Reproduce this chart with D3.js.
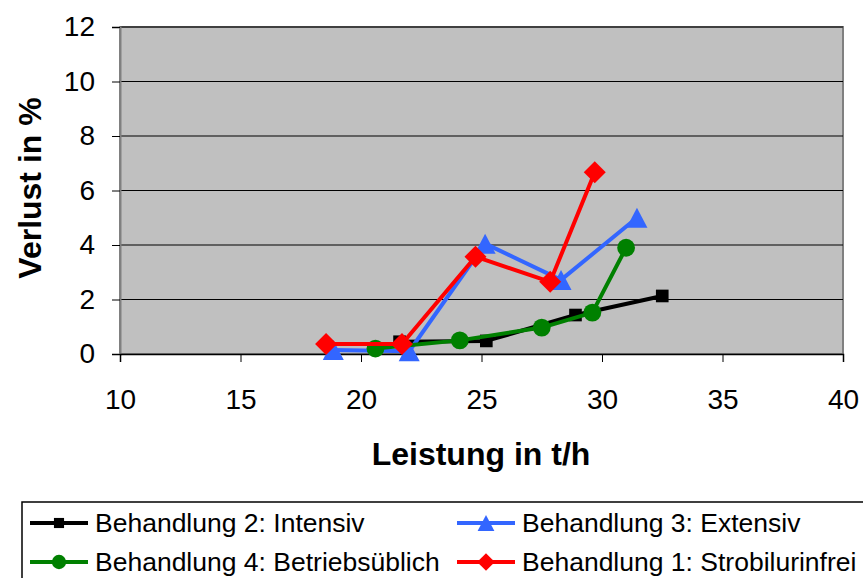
<!DOCTYPE html>
<html>
<head>
<meta charset="utf-8">
<script src="https://cdn.jsdelivr.net/npm/d3@7"></script>
<style>
  body { margin: 0; background: #fff; }
  svg { display: block; font-family: "Liberation Sans", Arial, sans-serif; }
</style>
</head>
<body>
<svg id="chart" width="863" height="578"></svg>
<script>
// tick values
var xTicks = [10, 15, 20, 25, 30, 35, 40],
    yTicks = [0, 2, 4, 6, 8, 10, 12];

// Behandlung 2: Intensiv
var intensivX = [21.6, 25.2, 28.9, 32.5],
    intensivY = [0.45, 0.48, 1.43, 2.13];
// Behandlung 3: Extensiv
var extensivX = [18.85, 22.0, 25.15, 28.3, 31.45],
    extensivY = [0.15, 0.1, 4.05, 2.72, 5.0];
// Behandlung 4: Betriebsüblich
var betriebX = [20.6, 24.1, 27.5, 29.6, 31.0],
    betriebY = [0.2, 0.5, 0.97, 1.52, 3.9];
// Behandlung 1: Strobilurinfrei
var strobX = [18.55, 21.7, 24.75, 27.85, 29.7],
    strobY = [0.37, 0.37, 3.57, 2.65, 6.67];

var seriesNames = ["Behandlung 2: Intensiv", "Behandlung 3: Extensiv",
                   "Behandlung 4: Betriebsüblich", "Behandlung 1: Strobilurinfrei"];

var series = [
  {name: seriesNames[0], xs: intensivX, ys: intensivY, color: "#000000", sym: "square"},
  {name: seriesNames[1], xs: extensivX, ys: extensivY, color: "#3366ff", sym: "triangle"},
  {name: seriesNames[2], xs: betriebX, ys: betriebY, color: "#008000", sym: "circle"},
  {name: seriesNames[3], xs: strobX, ys: strobY, color: "#ff0000", sym: "diamond"}
];

var svg = d3.select("svg#chart"),
    plot = {left: 120, top: 27, right: 843, bottom: 354};

var x = d3.scaleLinear().domain([10, 40]).range([plot.left, plot.right]),
    y = d3.scaleLinear().domain([0, 12]).range([plot.bottom, plot.top]);

// plot background
svg.append("rect")
    .attr("x", plot.left).attr("y", plot.top)
    .attr("width", plot.right - plot.left).attr("height", plot.bottom - plot.top)
    .attr("fill", "#c0c0c0")
    .attr("stroke", "#808080").attr("stroke-width", 2);

// gridlines
svg.append("g")
  .selectAll("line").data(yTicks.filter(function(d) { return d > 0; }))
  .enter().append("line")
    .attr("x1", plot.left).attr("x2", plot.right)
    .attr("y1", function(d) { return y(d); }).attr("y2", function(d) { return y(d); })
    .attr("stroke", "#000").attr("stroke-width", 1);

// axes
var yAxis = svg.append("g")
    .attr("transform", "translate(" + plot.left + ",0)")
    .call(d3.axisLeft(y).tickValues(yTicks).tickSize(8).tickPadding(17));
var xAxis = svg.append("g")
    .attr("transform", "translate(0," + plot.bottom + ")")
    .call(d3.axisBottom(x).tickValues(xTicks).tickSize(8).tickPadding(27));

[yAxis, xAxis].forEach(function(a) {
  a.select(".domain").attr("stroke", "#000").attr("stroke-width", 1.5);
  a.selectAll(".tick line").attr("stroke", "#000");
  a.selectAll(".tick text")
    .attr("font-family", "'Liberation Sans', Arial, sans-serif")
    .attr("font-size", 28).attr("fill", "#000");
});
yAxis.select(".domain").attr("stroke", "#808080").attr("stroke-width", 2);

// axis titles
svg.append("text")
    .attr("x", 481).attr("y", 465)
    .attr("text-anchor", "middle")
    .attr("font-size", 32).attr("font-weight", "bold")
    .text("Leistung in t/h");

svg.append("text")
    .attr("transform", "translate(41,188) rotate(-90)")
    .attr("text-anchor", "middle")
    .attr("font-size", 32).attr("font-weight", "bold")
    .text("Verlust in %");

function symbolPath(sym, scale) {
  var s = scale || 1;
  if (sym === "square") return d3.symbol().type(d3.symbolSquare).size(160 * s * s)();
  if (sym === "circle") return d3.symbol().type(d3.symbolCircle).size(250 * s * s)();
  if (sym === "triangle") {
    var h = 20 * s, w = 21 * s;
    return "M0," + (-h / 2) + "L" + (w / 2) + "," + (h / 2) + "L" + (-w / 2) + "," + (h / 2) + "Z";
  }
  var r = 11 * s;
  return "M0," + (-r) + "L" + r + ",0L0," + r + "L" + (-r) + ",0Z";
}

var line = d3.line()
    .x(function(d) { return x(d[0]); })
    .y(function(d) { return y(d[1]); });

series.forEach(function(s) {
  var pts = s.xs.map(function(v, i) { return [v, s.ys[i]]; });
  var g = svg.append("g");
  g.append("path")
      .attr("d", line(pts))
      .attr("fill", "none")
      .attr("stroke", s.color).attr("stroke-width", 4)
      .attr("stroke-linejoin", "round");
  g.selectAll("path.mark").data(pts).enter().append("path")
      .attr("class", "mark")
      .attr("transform", function(d) { return "translate(" + x(d[0]) + "," + y(d[1]) + ")"; })
      .attr("d", symbolPath(s.sym))
      .attr("fill", s.color);
});

// legend
svg.append("rect")
    .attr("x", 22).attr("y", 502)
    .attr("width", 900).attr("height", 120)
    .attr("fill", "#fff").attr("stroke", "#000").attr("stroke-width", 1.5);

var legendPos = [[30, 523], [457, 523], [30, 562], [457, 562]];

series.forEach(function(s, i) {
  var p = legendPos[i],
      lg = svg.append("g").attr("transform", "translate(" + p[0] + "," + p[1] + ")");
  lg.append("line")
      .attr("x1", 0).attr("x2", 58).attr("y1", 0).attr("y2", 0)
      .attr("stroke", s.color).attr("stroke-width", 4);
  lg.append("path")
      .attr("transform", "translate(29,0)")
      .attr("d", symbolPath(s.sym, 0.8))
      .attr("fill", s.color);
  lg.append("text")
      .attr("x", 65).attr("y", 9)
      .attr("font-size", 26.5)
      .text(s.name);
});
</script>
</body>
</html>
